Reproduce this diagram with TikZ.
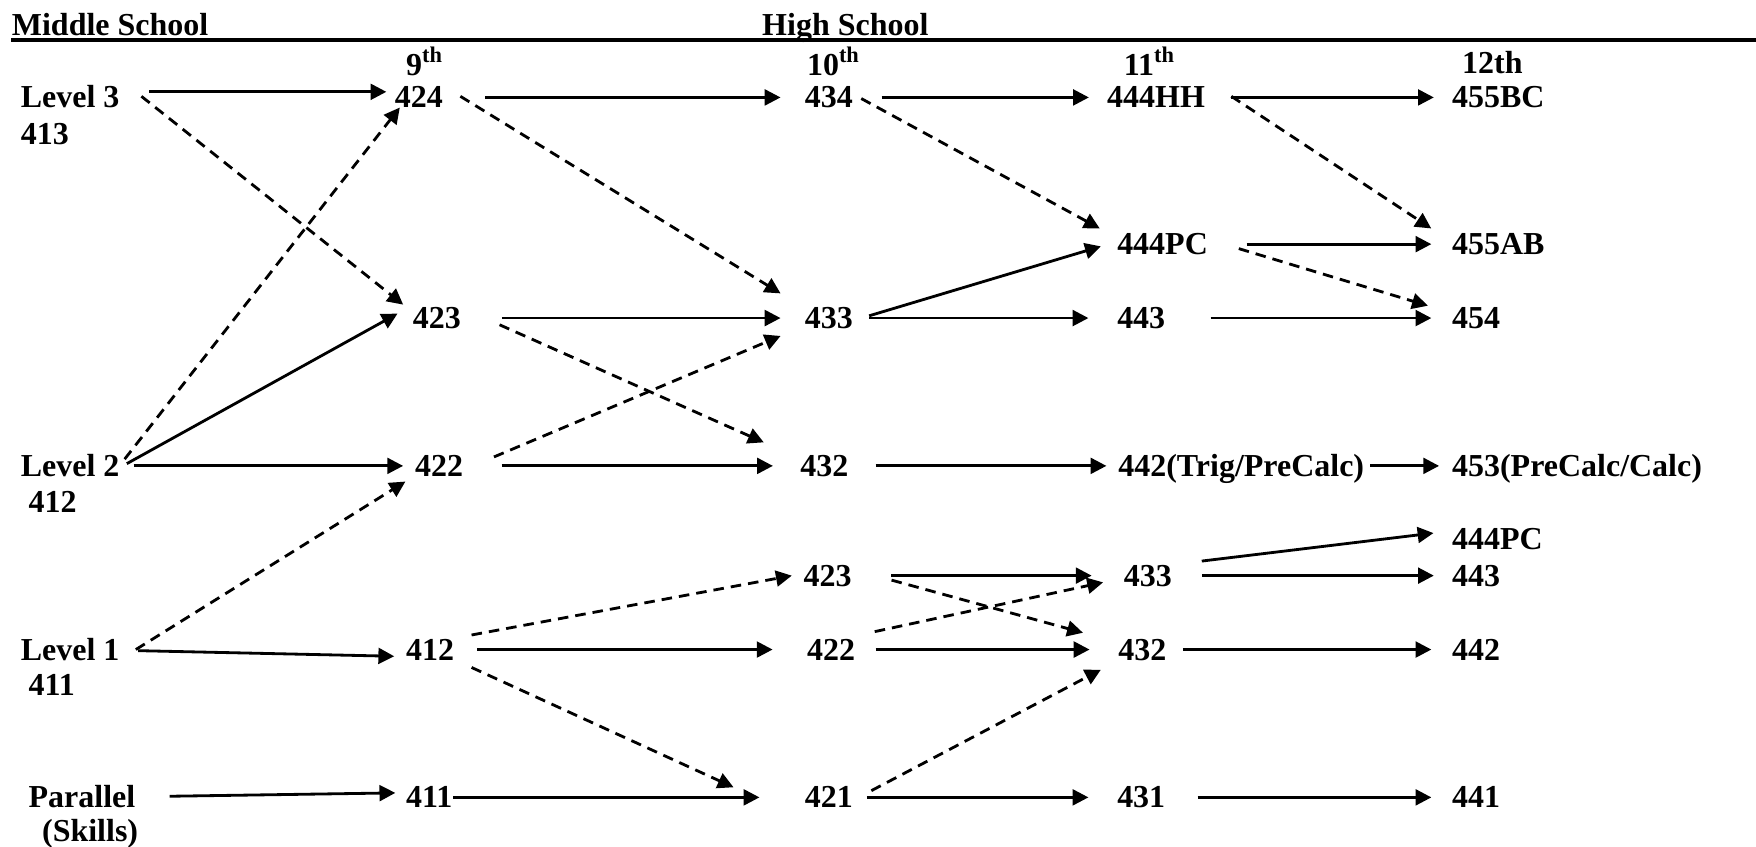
\documentclass[tikz,border=0pt]{standalone}
\usepackage{fontspec}
\setmainfont{Liberation Serif}
\usetikzlibrary{arrows.meta}

\begin{document}
\begin{tikzpicture}[
    x=0.0112cm, y=-0.0112cm,
    course/.style={anchor=west, inner sep=0pt, text height=6pt, text depth=0pt, font=\fontsize{9.1}{11}\selectfont\bfseries},
    arrow/.style={-{Triangle[length=4.5pt,width=4.5pt]}, line width=0.8pt},
    option/.style={arrow, dash pattern=on 3pt off 2pt},
    gaps/.style 2 args={shorten <=#1, shorten >=#2}
  ]
  \useasboundingbox (0,0) rectangle (1568,756);

  % Headings
  \node[course] (mid) at (10,22) {Middle School};
  \node[course] (high) at (680,22) {High School};
  \draw[line width=1.3pt] (10,35.7) -- (1568,35.7);

  % Grades
  \node[course] (g9) at (362,58) {9\textsuperscript{th}};
  \node[course] (g10) at (720,58) {10\textsuperscript{th}};
  \node[course] (g11) at (1003,58) {11\textsuperscript{th}};
  \node[course] (g12) at (1305,56) {12th};

  % Middle school levels
  \node[course] (lvl3) at (18,87) {Level 3};
  \node[course] (lvl3code) at (18,120) {413};
  \node[course] (lvl2) at (18,416) {Level 2};
  \node[course] (lvl2code) at (25,448) {412};
  \node[course] (lvl1) at (18,580) {Level 1};
  \node[course] (lvl1code) at (25,612) {411};
  \node[course] (par) at (25,712) {Parallel};
  \node[course] (skills) at (37,742) {(Skills)};

  % 9th grade
  \node[course] (a424) at (352,87) {424};
  \node[course] (c423) at (368,284) {423};
  \node[course] (d422) at (370,416) {422};
  \node[course] (g412) at (362,580) {412};
  \node[course] (h411) at (362,712) {411};

  % 10th grade
  \node[course] (a434) at (718,87) {434};
  \node[course] (c433) at (718,284) {433};
  \node[course] (d432) at (714,416) {432};
  \node[course] (f423) at (717,514) {423};
  \node[course] (g422) at (720,580) {422};
  \node[course] (h421) at (718,712) {421};

  % 11th grade
  \node[course] (a444hh) at (988,87) {444HH};
  \node[course] (b444pc) at (997,218) {444PC};
  \node[course] (c443) at (997,284) {443};
  \node[course] (d442) at (998,416) {442(Trig/PreCalc)};
  \node[course] (f433) at (1003,514) {433};
  \node[course] (g432) at (998,580) {432};
  \node[course] (h431) at (997,712) {431};

  % 12th grade
  \node[course] (a455bc) at (1296,87) {455BC};
  \node[course] (b455ab) at (1296,218) {455AB};
  \node[course] (c454) at (1296,284) {454};
  \node[course] (d453) at (1296,416) {453(PreCalc/Calc)};
  \node[course] (e444pc) at (1296,481) {444PC};
  \node[course] (f443) at (1296,514) {443};
  \node[course] (g442) at (1296,580) {442};
  \node[course] (h441) at (1296,712) {441};

  % Regular path
  \draw[arrow] ([shift={(26,-5)}]lvl3.east) -- ([shift={(-7,-5)}]a424.west);
  \draw[arrow, gaps={11.8pt}{6.7pt}] (a424) -- (a434);
  \draw[arrow, gaps={8pt}{5pt}] (a434) -- (a444hh);
  \draw[arrow, gaps={7.3pt}{5pt}] (a444hh) -- (a455bc);
  \draw[arrow, gaps={10.8pt}{5.7pt}] (b444pc) -- (b455ab);
  \draw[arrow] ([shift={(14,-2)}]c433.east) -- ([shift={(-14,2)}]b444pc.west);
  \draw[arrow, gaps={11.5pt}{6.7pt}] (c423) -- (c433);
  \draw[arrow, gaps={4.5pt}{8pt}] (c433) -- (c443);
  \draw[arrow, gaps={12.7pt}{5.7pt}] (c443) -- (c454);
  \draw[arrow] ([shift={(6,-2)}]lvl2.east) -- ([shift={(-13,-4)}]c423.west);
  \draw[arrow, gaps={3.8pt}{3.2pt}] (lvl2) -- (d422);
  \draw[arrow, gaps={10.8pt}{7.6pt}] (d422) -- (d432);
  \draw[arrow, gaps={7.6pt}{3.2pt}] (d432) -- (d442);
  \draw[arrow, gaps={1.6pt}{3.5pt}] (d442) -- (d453);
  \draw[arrow, gaps={11pt}{9pt}] (f423) -- (f433);
  \draw[arrow] ([shift={(26,-13)}]f433.east) -- ([shift={(-16,-5)}]e444pc.west);
  \draw[arrow, gaps={8.3pt}{5pt}] (f433) -- (f443);
  \draw[arrow] ([shift={(16,1)}]lvl1.east) -- ([shift={(-10,6)}]g412.west);
  \draw[arrow, gaps={6.4pt}{9.6pt}] (g412) -- (g422);
  \draw[arrow, gaps={5.7pt}{8pt}] (g422) -- (g432);
  \draw[arrow, gaps={4.5pt}{5.7pt}] (g432) -- (g442);
  \draw[arrow] ([shift={(30,-1)}]par.east) -- ([shift={(-9,-4)}]h411.west);
  \draw[arrow, gaps={0pt}{12.7pt}] (h411) -- (h421);
  \draw[arrow, gaps={3.8pt}{8pt}] (h421) -- (h431);
  \draw[arrow, gaps={9pt}{5.7pt}] (h431) -- (h441);

  % Optional moves
  \draw[option] ([shift={(19,-1)}]lvl3.east) -- ([shift={(-8,-12)}]c423.west);
  \draw[option] ([shift={(15,-1)}]a424.east) -- ([shift={(-21,-22)}]c433.west);
  \draw[option] ([shift={(7,1)}]a434.east) -- ([shift={(-15,-14)}]b444pc.west);
  \draw[option] ([shift={(23,-1)}]a444hh.east) -- ([shift={(-18,-14)}]b455ab.west);
  \draw[option] ([shift={(27,4)}]b444pc.east) -- ([shift={(-21,-11)}]c454.west);
  \draw[option] ([shift={(4,-6)}]lvl2.east) -- ([shift={(5,9)}]a424.west);
  \draw[option] ([shift={(27,-8)}]d422.east) -- ([shift={(-21,16)}]c433.west);
  \draw[option] ([shift={(34,6)}]c423.east) -- ([shift={(-32,-21)}]d432.west);
  \draw[option] ([shift={(14,0)}]lvl1.east) -- ([shift={(-8,14)}]d422.west);
  \draw[option] ([shift={(15,-13)}]g412.east) -- ([shift={(-10,0)}]f423.west);
  \draw[option] ([shift={(15,16)}]g412.east) -- ([shift={(-63,-9)}]h421.west);
  \draw[option] ([shift={(17,-16)}]g422.east) -- ([shift={(-18,6)}]f433.west);
  \draw[option] ([shift={(35,4)}]f423.east) -- ([shift={(-31,-15)}]g432.west);
  \draw[option] ([shift={(16,-6)}]h421.east) -- ([shift={(-15,18)}]g432.west);
\end{tikzpicture}
\end{document}
